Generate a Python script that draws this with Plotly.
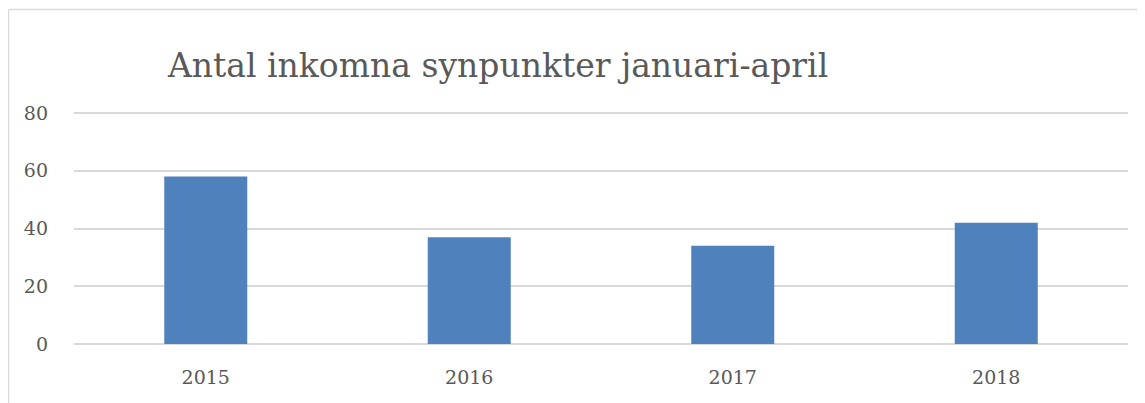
import plotly.graph_objects as go

years = ["2015", "2016", "2017", "2018"]
values = [58, 37, 34, 42]
y_ticks = [0, 20, 40, 60, 80]
title_text = "Antal inkomna synpunkter januari-april"

# the page places the figure at an 8px body offset
W, H = 1137, 395
L, R, T, B = 66, 17, 102, 59
pw = W - L - R
ph = H - T - B
y_top = 80 * ph / (336 - 105)  # keeps the 80 gridline at the reference position, just inside the plot

def px2paper_x(px):
    return (px - L) / pw

def py2paper_y(py):
    return (H - B - py) / ph

fig = go.Figure(go.Bar(x=years, y=values, marker=dict(color="#4F81BD", line=dict(width=0))))

font_family = "DejaVu Serif"
fig.update_layout(
    width=W, height=H,
    margin=dict(l=L, r=R, t=T, b=B),
    paper_bgcolor="white", plot_bgcolor="white",
    bargap=0.685,
    showlegend=False,
    font=dict(family=font_family, color="#595959"),
    xaxis=dict(showgrid=False, showline=False, ticks="", tickfont=dict(size=19, color="#595959"),
               zeroline=False, ticklabelstandoff=20),
    yaxis=dict(range=[0, y_top], tickvals=y_ticks, showgrid=True, gridcolor="#D9D9D9", gridwidth=1.5,
               zeroline=True, zerolinecolor="#D9D9D9", zerolinewidth=1.5, showline=False,
               ticks="", tickfont=dict(size=19, color="#595959"), ticklabelstandoff=25),
)

fig.add_annotation(text=title_text, xref="paper", yref="paper",
                   x=px2paper_x(157), y=py2paper_y(57), xanchor="left", yanchor="middle",
                   showarrow=False, font=dict(size=33, family=font_family, color="#595959"))

# outer chart frame
fig.add_shape(type="line", xref="paper", yref="paper",
              x0=px2paper_x(0.5), x1=px2paper_x(1160), y0=py2paper_y(1.5), y1=py2paper_y(1.5),
              line=dict(color="#D9D9D9", width=1.5))
fig.add_shape(type="line", xref="paper", yref="paper",
              x0=px2paper_x(0.5), x1=px2paper_x(0.5), y0=py2paper_y(1.5), y1=py2paper_y(420),
              line=dict(color="#D9D9D9", width=1.5))

fig.write_html("out.html")
